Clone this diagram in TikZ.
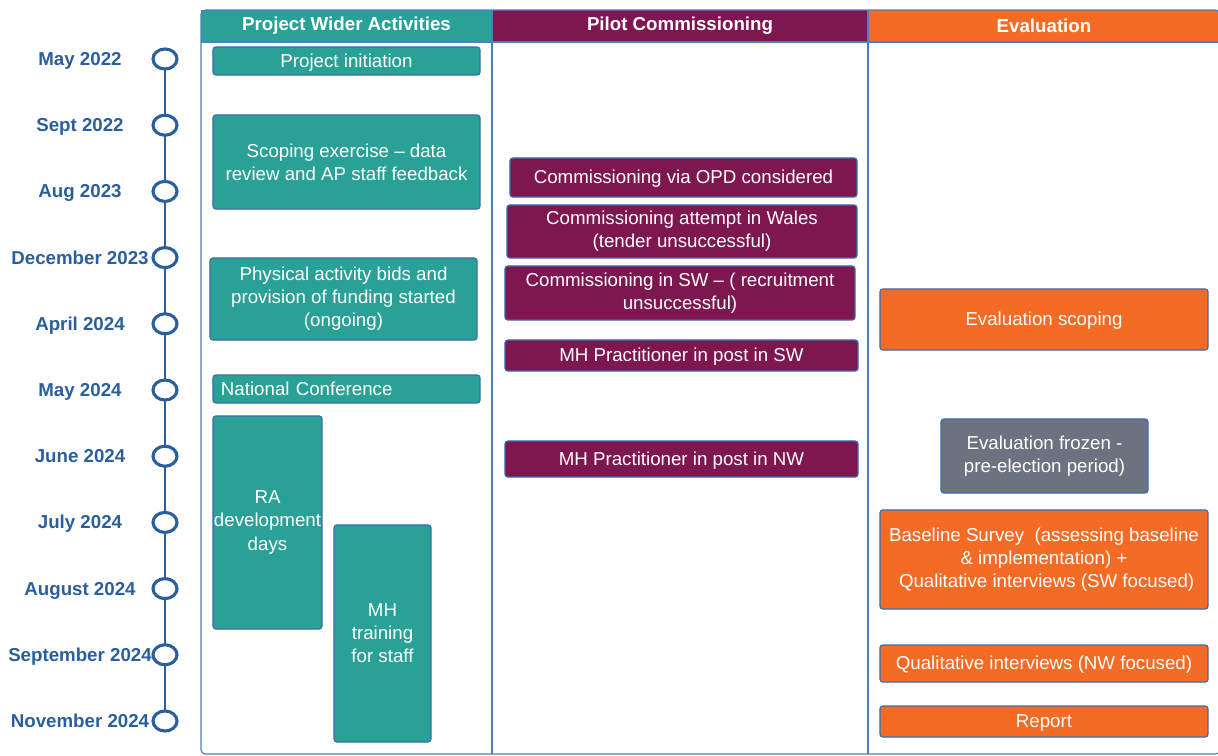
\documentclass[tikz,border=0pt]{standalone}
\usepackage{fontspec}
\setmainfont{Liberation Sans}
\usetikzlibrary{shapes.geometric}
\definecolor{teal1}{HTML}{2AA197}
\definecolor{plum1}{HTML}{7E1650}
\definecolor{orng1}{HTML}{F36B24}
\definecolor{grey1}{HTML}{6C7280}
\definecolor{navy1}{HTML}{2B5E9C}
\definecolor{edge1}{HTML}{3B6DAF}
\definecolor{rule1}{HTML}{4C7FBC}
\begin{document}
\begin{tikzpicture}
[x=0.025cm, y=-0.025cm,
 txt/.style={font=\fontsize{13.3}{16.4}\selectfont},
 sl/.style={text height=0.92em,text depth=0pt},
 bx/.style={txt,rectangle,rounded corners=2pt,draw=edge1,line width=0.8pt,text=white,align=center,inner sep=0pt},
 pw/.style={bx,fill=teal1}, pc/.style={bx,fill=plum1}, ev/.style={bx,fill=orng1}, fz/.style={bx,fill=grey1},
 hd/.style={txt,font=\fontsize{13.3}{16.4}\selectfont\bfseries,text=white,inner sep=0pt,minimum height=0.8cm},
 tk/.style={ellipse,draw=navy1,fill=white,line width=2.2pt,minimum width=0.6cm,minimum height=0.5cm,inner sep=0pt},
 dt/.style={font=\fontsize{13.3}{16.4}\selectfont\bfseries,text=navy1,sl}]
\useasboundingbox (0,0) rectangle (1218,756);
% column headers
\node(h1) at (346.5,26)[hd,fill=teal1,minimum width=7.275cm]{Project Wider Activities};
\node(h2) at (680,26)[hd,fill=plum1,minimum width=9.4cm]{Pilot Commissioning};
\node(h3) at (1044,26)[hd,fill=orng1,minimum width=8.8cm]{Evaluation};
% table frame
\draw[rule1,line width=0.8pt,rounded corners=3pt] (201,10) rectangle (1220,754);
\draw[rule1,line width=0.8pt] (201,42)--(1220,42) (492,10)--(492,754) (868,10)--(868,754);
% timeline
\foreach \d [count=\i] in {May 2022,Sept 2022,Aug 2023,December 2023,April 2024,May 2024,
  June 2024,July 2024,August 2024,September 2024,November 2024}
  \node(d\i) at (80,{59+66.2*(\i-1)})[dt]{\d};
\foreach \i in {1,...,11} \coordinate(c\i) at (165,{59+66.2*(\i-1)});
\draw[navy1,line width=1.5pt] (c1)--(c11);
\foreach \i in {1,...,11} \node(t\i) at (c\i)[tk]{};
% project wider activities
\node(init) at (346.5,61)[pw,sl,minimum width=6.675cm,minimum height=0.7cm]{Project initiation};
\node(scope) at (346.5,162)[pw,minimum width=6.675cm,minimum height=2.35cm]{Scoping exercise -- data\\review and AP staff feedback};
\node(bids) at (343.5,299)[pw,minimum width=6.675cm,minimum height=2.05cm]{Physical activity bids and\\provision of funding started\\(ongoing)};
\node(conf) at (346.5,389)[pw,sl,minimum width=6.675cm,minimum height=0.7cm,text width=6.275cm,align=left]{National Conference};
\node(ra) at (267.5,522.5)[pw,minimum width=2.725cm,minimum height=5.325cm]{RA\\development\\days};
\node(mht) at (382.5,633.5)[pw,minimum width=2.425cm,minimum height=5.425cm]{MH\\training\\for staff};
% pilot commissioning
\node(opd) at (683.5,177.5)[pc,sl,minimum width=8.675cm,minimum height=0.975cm]{Commissioning via OPD considered};
\node(wales) at (682,231.5)[pc,minimum width=8.75cm,minimum height=1.325cm]{Commissioning attempt in Wales\\(tender unsuccessful)};
\node(sw) at (680,293)[pc,minimum width=8.75cm,minimum height=1.35cm]{Commissioning in SW -- ( recruitment\\unsuccessful)};
\node(mhsw) at (681.5,355.5)[pc,sl,minimum width=8.825cm,minimum height=0.775cm]{MH Practitioner in post in SW};
\node(mhnw) at (681.5,459)[pc,sl,minimum width=8.825cm,minimum height=0.9cm]{MH Practitioner in post in NW};
% evaluation
\node(escope) at (1044,319.5)[ev,sl,minimum width=8.2cm,minimum height=1.525cm]{Evaluation scoping};
\node(frozen) at (1044.5,456)[fz,minimum width=5.175cm,minimum height=1.85cm]{Evaluation frozen -\\pre-election period)};
\node(base) at (1044,559.5)[ev,minimum width=8.2cm,minimum height=2.475cm]{Baseline Survey\ \ (assessing baseline\\\& implementation) +\\\ Qualitative interviews (SW focused)};
\node(qual) at (1044,663.5)[ev,sl,minimum width=8.2cm,minimum height=0.925cm]{Qualitative interviews (NW focused)};
\node(rep) at (1044,721.5)[ev,sl,minimum width=8.2cm,minimum height=0.775cm]{Report};
\end{tikzpicture}
\end{document}
